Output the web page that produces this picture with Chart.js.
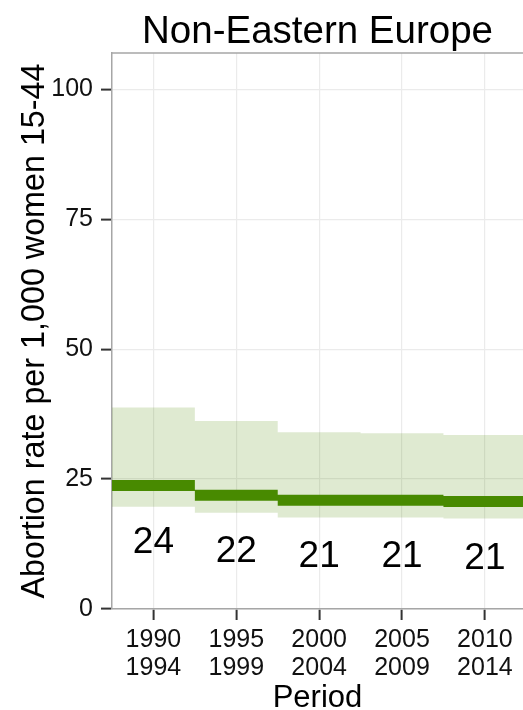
<!DOCTYPE html>
<html>
<head>
<meta charset="utf-8">
<script src="https://cdn.jsdelivr.net/npm/chart.js@4/dist/chart.umd.min.js"></script>
<style>
  html, body { margin: 0; padding: 0; background: #ffffff; overflow: hidden; }
  #wrap { width: 523px; height: 710px; }
</style>
</head>
<body>
<div id="wrap"><canvas id="c" width="523" height="710"></canvas></div>
<script>
// ---- data ----
const periodStart = ["1990", "1995", "2000", "2005", "2010"];
const periodEnd   = ["1994", "1999", "2004", "2009", "2014"];
const rate        = [23.75, 21.9, 20.95, 20.95, 20.7];
const rateLow     = [19.7, 18.5, 17.6, 17.6, 17.4];
const rateHigh    = [38.8, 36.2, 34.0, 33.8, 33.5];
const yTicks      = [0, 25, 50, 75, 100];
const chartTitle  = "Non-Eastern Europe";
const xTitle      = "Period";
const yTitle      = "Abortion rate per 1,000 women 15-44";

// ---- build step series (each period spans its own category slot) ----
function stepBand(vals) {
  const pts = [];
  vals.forEach((v, i) => { pts.push({x: i - 0.5, y: v}); pts.push({x: i + 0.5, y: v}); });
  return pts;
}
function stepSegments(vals) {
  const pts = [];
  vals.forEach((v, i) => {
    if (i > 0) pts.push({x: i - 0.5, y: null});
    pts.push({x: i - 0.5, y: v}); pts.push({x: i + 0.5, y: v});
  });
  return pts;
}

const FONT = "'Liberation Sans', Arial, Helvetica, sans-serif";
const LINE = '#488a00';
const BAND = 'rgba(76,140,0,0.18)';

const decor = {
  id: 'decor',
  beforeDatasetsDraw(chart) {
    const {ctx, chartArea} = chart;
    ctx.save();
    ctx.strokeStyle = '#a6a6a6';
    ctx.lineWidth = 1.5;
    ctx.beginPath();
    ctx.moveTo(chartArea.left, chartArea.top);
    ctx.lineTo(chartArea.right, chartArea.top);
    ctx.stroke();
    ctx.restore();
  },
  afterDatasetsDraw(chart) {
    const {ctx, chartArea, scales} = chart;
    ctx.save();
    ctx.fillStyle = '#000';
    ctx.textAlign = 'center';
    ctx.textBaseline = 'middle';
    ctx.font = '37px ' + FONT;
    rate.forEach((v, i) => {
      const x = scales.x.getPixelForValue(i);
      const y = scales.y.getPixelForValue(v) + 57;
      ctx.fillText(String(Math.round(v)), x, y);
    });
    ctx.font = '38.5px ' + FONT;
    ctx.textBaseline = 'alphabetic';
    ctx.fillText(chartTitle, (chartArea.left + chartArea.right) / 2, 42.5);
    ctx.restore();
  }
};

new Chart(document.getElementById('c'), {
  type: 'line',
  data: {
    datasets: [
      { label: 'line', data: stepSegments(rate), borderColor: LINE, borderWidth: 11,
        borderCapStyle: 'butt', pointRadius: 0, fill: false, spanGaps: false, order: 0 },
      { label: 'high', data: stepBand(rateHigh), borderWidth: 0, borderColor: 'rgba(0,0,0,0)',
        backgroundColor: BAND, pointRadius: 0, fill: '+1', order: 1 },
      { label: 'low', data: stepBand(rateLow), borderWidth: 0, borderColor: 'rgba(0,0,0,0)',
        pointRadius: 0, fill: false, order: 2 }
    ]
  },
  options: {
    responsive: false,
    animation: false,
    events: [],
    layout: { padding: { top: 53, right: 0, left: 0, bottom: 0 } },
    plugins: { legend: { display: false }, tooltip: { enabled: false }, title: { display: false } },
    scales: {
      x: {
        type: 'linear', min: -0.5, max: 4.46,
        afterBuildTicks: (s) => { s.ticks = periodStart.map((p, i) => ({ value: i })); },
        afterFit: (s) => { s.height = 101; },
        ticks: {
          autoSkip: false, maxRotation: 0, padding: 6, color: '#111',
          font: { family: FONT, size: 25, lineHeight: 1.13 },
          callback: (v) => [periodStart[v], periodEnd[v]]
        },
        grid: { color: '#ebebeb', lineWidth: 1.2, tickColor: '#333', tickLength: 11, tickWidth: 2, offset: false },
        border: { color: '#a6a6a6', width: 1.5 },
        title: { display: true, text: xTitle, color: '#000', padding: { top: 0, bottom: 0 },
                 font: { family: FONT, size: 31, lineHeight: 0.75 } }
      },
      y: {
        type: 'linear', min: 0, max: 107,
        afterBuildTicks: (s) => { s.ticks = yTicks.map(v => ({ value: v })); },
        afterFit: (s) => { s.width = 112; },
        ticks: { padding: 8, color: '#111', font: { family: FONT, size: 25 } },
        grid: { color: '#ebebeb', lineWidth: 1.2, tickColor: '#333', tickLength: 11, tickWidth: 2 },
        border: { color: '#a6a6a6', width: 1.5 },
        title: { display: true, text: yTitle, color: '#000', padding: { top: 16, bottom: 0 },
                 font: { family: FONT, size: 32.3, lineHeight: 1.2 } }
      }
    }
  },
  plugins: [decor]
});
</script>
</body>
</html>
